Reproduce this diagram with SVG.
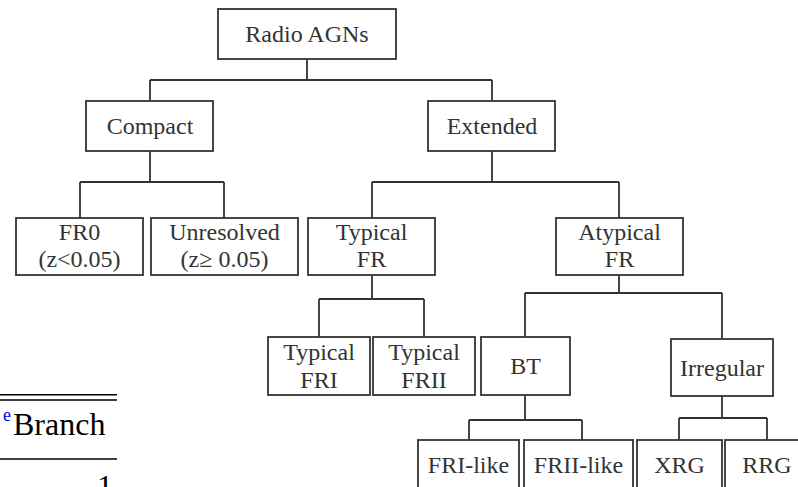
<svg xmlns="http://www.w3.org/2000/svg" width="798" height="487" viewBox="0 0 798 487">
<style>
.box{fill:#fff;stroke:#333;stroke-width:1.8}
.t{font-family:"Liberation Serif","Times New Roman",serif;font-size:24px;fill:#333;text-anchor:middle}
.c{fill:none;stroke:#333;stroke-width:1.8}
.tb{stroke:#000;stroke-width:1.4}
</style>
<rect width="798" height="487" fill="#fff"/>
<g id="connectors">
<path class="c" d="M307 59V80M150 80H492M150 80V101M492 80V101"/>
<path class="c" d="M150 151V182M80 182H224M80 182V218M224 182V218"/>
<path class="c" d="M492 151V182M372 182H619M372 182V218M619 182V218"/>
<path class="c" d="M372 275V299M319 299H424M319 299V337M424 299V337"/>
<path class="c" d="M619 275V293M525 293H722M525 293V337M722 293V339"/>
<path class="c" d="M525 395V420M469 420H582M469 420V440M582 420V440"/>
<path class="c" d="M722 396V418M679 418H767M679 418V440M767 418V440"/>
</g>
<g id="radio-agns"><rect class="box" x="218" y="9" width="178" height="50"/><text class="t" x="307" y="42">Radio AGNs</text></g>
<g id="compact"><rect class="box" x="86" y="101" width="127" height="50"/><text class="t" x="150" y="134">Compact</text></g>
<g id="extended"><rect class="box" x="428" y="101" width="127" height="50"/><text class="t" x="492" y="134">Extended</text></g>
<g id="fr0"><rect class="box" x="16" y="218" width="127" height="57"/><text class="t" x="79.5" y="240">FR0</text><text class="t" x="79.5" y="267">(z&lt;0.05)</text></g>
<g id="unresolved"><rect class="box" x="151" y="218" width="147" height="57"/><text class="t" x="224.5" y="240">Unresolved</text><text class="t" x="224.5" y="267">(z≥ 0.05)</text></g>
<g id="typical-fr"><rect class="box" x="308" y="218" width="127" height="57"/><text class="t" x="371.5" y="240">Typical</text><text class="t" x="371.5" y="267">FR</text></g>
<g id="atypical-fr"><rect class="box" x="556" y="218" width="127" height="57"/><text class="t" x="619.5" y="240">Atypical</text><text class="t" x="619.5" y="267">FR</text></g>
<g id="typical-fri"><rect class="box" x="268" y="337" width="102" height="58"/><text class="t" x="319" y="360">Typical</text><text class="t" x="319" y="388">FRI</text></g>
<g id="typical-frii"><rect class="box" x="373" y="337" width="102" height="58"/><text class="t" x="424" y="360">Typical</text><text class="t" x="424" y="388">FRII</text></g>
<g id="bt"><rect class="box" x="481" y="337" width="89" height="58"/><text class="t" x="525.5" y="374">BT</text></g>
<g id="irregular"><rect class="box" x="671" y="339" width="102" height="57"/><text class="t" x="722" y="376">Irregular</text></g>
<g id="fri-like"><rect class="box" x="418" y="440" width="101" height="60"/><text class="t" x="468.5" y="473">FRI-like</text></g>
<g id="frii-like"><rect class="box" x="524" y="440" width="109" height="60"/><text class="t" x="578.5" y="473">FRII-like</text></g>
<g id="xrg"><rect class="box" x="637" y="440" width="85" height="60"/><text class="t" x="679.5" y="473">XRG</text></g>
<g id="rrg"><rect class="box" x="725" y="440" width="84" height="60"/><text class="t" x="767" y="473">RRG</text></g>
<g id="table-fragment">
<path class="tb" d="M0 394.7H117M0 400H117M0 459H117"/>
<text x="3" y="421" font-family="Liberation Serif,serif" font-size="18" fill="#0000ee">e</text>
<text x="13" y="435" font-family="Liberation Serif,serif" font-size="32" fill="#000">Branch</text>
<text x="113" y="497" font-family="Liberation Serif,serif" font-size="32" fill="#000" text-anchor="end">1</text>
</g>
</svg>
